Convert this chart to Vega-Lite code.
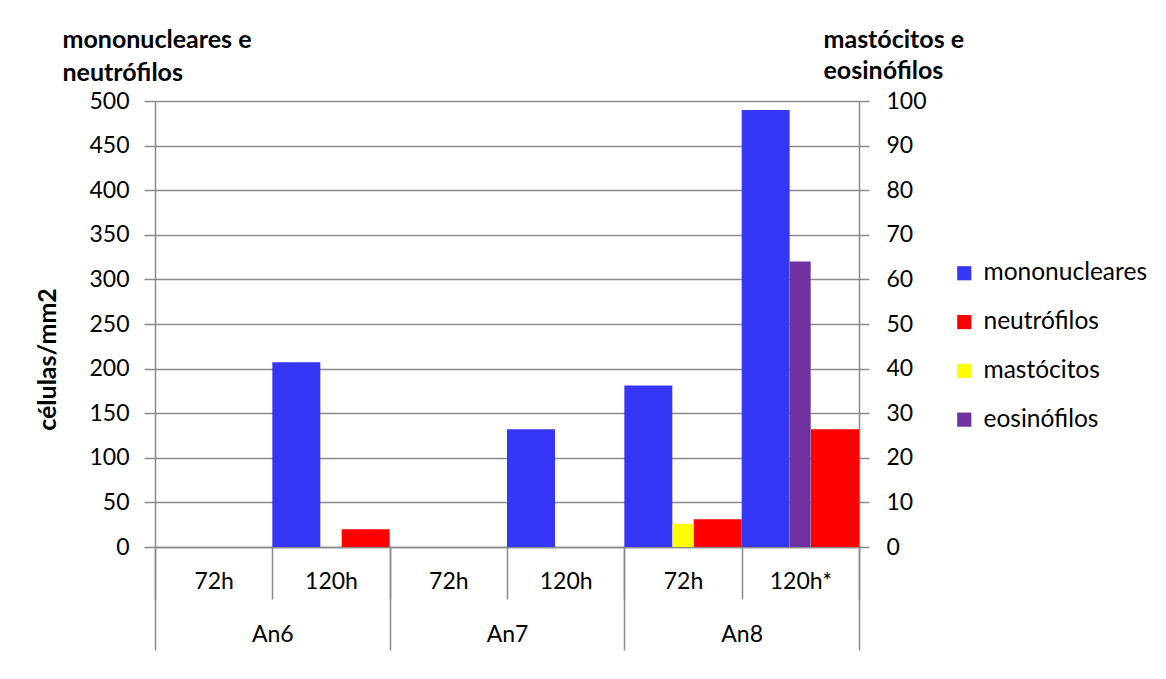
{
  "$schema": "https://vega.github.io/schema/vega-lite/v6.json",
  "width": 704,
  "height": 446,
  "autosize": {"type": "none"},
  "padding": {"left": 155, "top": 101, "right": 307, "bottom": 132},
  "background": "white",
  "config": {
    "font": "Lato",
    "view": {"stroke": null},
    "axis": {"labelFont": "Lato", "titleFont": "Lato", "labelColor": "#000000", "titleColor": "#000000", "labelFontSize": 23, "titleFontSize": 25},
    "legend": {"labelFont": "Lato", "labelColor": "#000000"}
  },
  "data": {
    "values": [
      {"cat": "An6|72h", "animal": "An6", "series": "mononucleares", "value": 0},
      {"cat": "An6|72h", "animal": "An6", "series": "neutrófilos", "value": 0},
      {"cat": "An6|72h", "animal": "An6", "series": "mastócitos", "value": 0},
      {"cat": "An6|72h", "animal": "An6", "series": "eosinófilos", "value": 0},
      {"cat": "An6|120h", "animal": "An6", "series": "mononucleares", "value": 207},
      {"cat": "An6|120h", "animal": "An6", "series": "neutrófilos", "value": 20},
      {"cat": "An6|120h", "animal": "An6", "series": "mastócitos", "value": 0},
      {"cat": "An6|120h", "animal": "An6", "series": "eosinófilos", "value": 0},
      {"cat": "An7|72h", "animal": "An7", "series": "mononucleares", "value": 0},
      {"cat": "An7|72h", "animal": "An7", "series": "neutrófilos", "value": 0},
      {"cat": "An7|72h", "animal": "An7", "series": "mastócitos", "value": 0},
      {"cat": "An7|72h", "animal": "An7", "series": "eosinófilos", "value": 0},
      {"cat": "An7|120h", "animal": "An7", "series": "mononucleares", "value": 132},
      {"cat": "An7|120h", "animal": "An7", "series": "neutrófilos", "value": 0},
      {"cat": "An7|120h", "animal": "An7", "series": "mastócitos", "value": 0},
      {"cat": "An7|120h", "animal": "An7", "series": "eosinófilos", "value": 0},
      {"cat": "An8|72h", "animal": "An8", "series": "mononucleares", "value": 181},
      {"cat": "An8|72h", "animal": "An8", "series": "neutrófilos", "value": 31},
      {"cat": "An8|72h", "animal": "An8", "series": "mastócitos", "value": 5.2},
      {"cat": "An8|72h", "animal": "An8", "series": "eosinófilos", "value": 0},
      {"cat": "An8|120h*", "animal": "An8", "series": "mononucleares", "value": 490},
      {"cat": "An8|120h*", "animal": "An8", "series": "neutrófilos", "value": 132},
      {"cat": "An8|120h*", "animal": "An8", "series": "mastócitos", "value": 0},
      {"cat": "An8|120h*", "animal": "An8", "series": "eosinófilos", "value": 64}
    ]
  },
  "layer": [
    {
      "transform": [{"filter": {"field": "series", "oneOf": ["mononucleares", "neutrófilos"]}}],
      "mark": {"type": "bar"},
      "encoding": {
        "x": {
          "field": "cat", "type": "nominal",
          "scale": {"domain": ["An6|72h", "An6|120h", "An7|72h", "An7|120h", "An8|72h", "An8|120h*"], "paddingInner": 0, "paddingOuter": 0},
          "axis": {
            "orient": "bottom",
            "labelExpr": "split(datum.label, '|')[1]",
            "labelAngle": 0,
            "tickBand": "extent",
            "tickSize": 52,
            "tickColor": "#8a8a8a",
            "tickWidth": 1.5,
            "domainColor": "#8a8a8a",
            "domainWidth": 1.5,
            "labelPadding": -29,
            "grid": false,
            "title": null
          }
        },
        "xOffset": {
          "field": "series", "type": "nominal",
          "scale": {"domain": ["mononucleares", "neutrófilos"], "paddingInner": 0.308, "paddingOuter": 0}
        },
        "y": {
          "field": "value", "type": "quantitative",
          "scale": {"domain": [0, 500], "nice": false},
          "axis": {
            "orient": "left",
            "values": [0, 50, 100, 150, 200, 250, 300, 350, 400, 450, 500],
            "grid": true,
            "gridColor": "#8a8a8a",
            "gridWidth": 1.5,
            "tickColor": "#8a8a8a",
            "tickWidth": 1.5,
            "tickSize": 11,
            "domainColor": "#8a8a8a",
            "domainWidth": 1.5,
            "labelPadding": 15,
            "title": "células/mm2",
            "titleFontWeight": "bold",
            "titleAngle": 270,
            "titleAlign": "center",
            "titleBaseline": "middle",
            "titleX": -108,
            "titleY": 258
          }
        },
        "color": {
          "field": "series", "type": "nominal",
          "scale": {"domain": ["mononucleares", "neutrófilos", "mastócitos", "eosinófilos"], "range": ["#3636F6", "#FF0000", "#FFFF00", "#7030A0"]},
          "legend": {
            "title": null,
            "orient": "none",
            "legendX": 797,
            "legendY": 160,
            "symbolType": "square",
            "symbolSize": 200,
            "symbolStrokeWidth": 0,
            "labelFontSize": 24.5,
            "labelLimit": 400,
            "labelOffset": 7,
            "rowPadding": 23.8
          }
        }
      }
    },
    {
      "transform": [{"filter": {"field": "series", "oneOf": ["mastócitos", "eosinófilos"]}}],
      "mark": {"type": "bar", "width": {"band": 0.176}},
      "encoding": {
        "x": {
          "field": "cat", "type": "nominal",
          "scale": {"domain": ["An6|72h", "An6|120h", "An7|72h", "An7|120h", "An8|72h", "An8|120h*"], "paddingInner": 0, "paddingOuter": 0},
          "axis": {
            "orient": "top",
            "labels": false,
            "ticks": false,
            "domain": false,
            "grid": false,
            "title": ["mononucleares e", "neutrófilos"],
            "titleFontWeight": "bold",
            "titleAngle": 0,
            "titleAlign": "left",
            "titleBaseline": "alphabetic",
            "titleLineHeight": 33,
            "titleX": -93,
            "titleY": -54
          }
        },
        "y": {
          "field": "value", "type": "quantitative",
          "scale": {"domain": [0, 100], "nice": false},
          "axis": {
            "orient": "right",
            "values": [0, 10, 20, 30, 40, 50, 60, 70, 80, 90, 100],
            "grid": false,
            "tickColor": "#8a8a8a",
            "tickWidth": 1.5,
            "tickSize": 10,
            "domainColor": "#8a8a8a",
            "domainWidth": 1.5,
            "labelPadding": 17,
            "title": ["mastócitos e", "eosinófilos"],
            "titleFontWeight": "bold",
            "titleAngle": 0,
            "titleAlign": "left",
            "titleBaseline": "alphabetic",
            "titleLineHeight": 31,
            "titleX": -36,
            "titleY": -54
          }
        },
        "color": {
          "field": "series", "type": "nominal",
          "scale": {"domain": ["mononucleares", "neutrófilos", "mastócitos", "eosinófilos"], "range": ["#3636F6", "#FF0000", "#FFFF00", "#7030A0"]}
        }
      }
    },
    {
      "mark": {"type": "point", "opacity": 0},
      "encoding": {
        "x": {
          "field": "animal", "type": "nominal",
          "scale": {"domain": ["An6", "An7", "An8"], "paddingInner": 0, "paddingOuter": 0},
          "axis": {
            "orient": "bottom",
            "labelAngle": 0,
            "tickBand": "extent",
            "tickSize": 103,
            "tickColor": "#8a8a8a",
            "tickWidth": 1.5,
            "domain": false,
            "labelPadding": -27,
            "grid": false,
            "title": null
          }
        }
      }
    }
  ],
  "resolve": {"scale": {"x": "independent", "y": "independent"}}
}
